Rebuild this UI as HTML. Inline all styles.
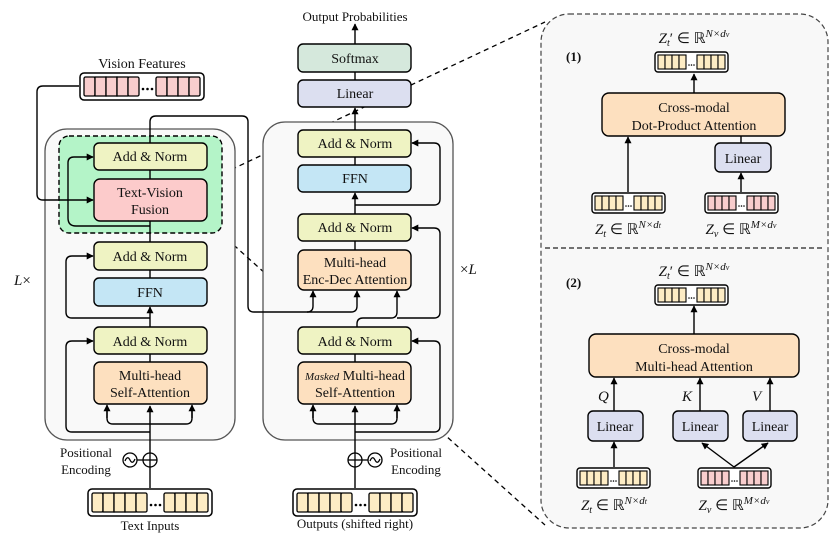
<!DOCTYPE html>
<html><head><meta charset="utf-8"><style>
html,body{margin:0;padding:0;background:#fff;}
svg{display:block;font-family:"Liberation Serif",serif;}
</style></head><body>
<svg width="830" height="536" viewBox="0 0 830 536" xmlns="http://www.w3.org/2000/svg">
<defs>
<marker id="a" viewBox="0 0 10 10" refX="9" refY="5" markerWidth="5" markerHeight="5" orient="auto"><path d="M0,0L10,5L0,10z" fill="#000"/></marker>
<symbol id="big" width="126" height="29" viewBox="0 0 126 29">
<rect x="1" y="1" width="124" height="27" rx="4" fill="#fff" stroke="#000" stroke-width="1.5"/>
<g stroke="#000" stroke-width="1.3"><rect x="5" y="5" width="11" height="19" rx="1.5"/><rect x="16" y="5" width="11" height="19"/><rect x="27" y="5" width="11" height="19"/><rect x="38" y="5" width="11" height="19"/><rect x="49" y="5" width="11" height="19" rx="1.5"/>
<rect x="77" y="5" width="11" height="19" rx="1.5"/><rect x="88" y="5" width="11" height="19"/><rect x="99" y="5" width="11" height="19"/><rect x="110" y="5" width="11" height="19" rx="1.5"/></g>
<circle cx="64" cy="17" r="1.3" fill="#000"/><circle cx="68.5" cy="17" r="1.3" fill="#000"/><circle cx="73" cy="17" r="1.3" fill="#000"/>
</symbol>
<symbol id="sm" width="75" height="22" viewBox="0 0 75 22">
<rect x="1" y="1" width="73" height="20" rx="3" fill="#fff" stroke="#000" stroke-width="1.4"/>
<g stroke="#000" stroke-width="1.1"><rect x="4" y="4" width="7" height="14"/><rect x="11" y="4" width="7" height="14"/><rect x="18" y="4" width="7" height="14"/><rect x="25" y="4" width="7" height="14"/>
<rect x="43" y="4" width="7" height="14"/><rect x="50" y="4" width="7" height="14"/><rect x="57" y="4" width="7" height="14"/><rect x="64" y="4" width="7" height="14"/></g>
<circle cx="35" cy="14" r="0.8" fill="#000"/><circle cx="37.5" cy="14" r="0.8" fill="#000"/><circle cx="40" cy="14" r="0.8" fill="#000"/>
</symbol>
</defs>

<rect x="541" y="14" width="287" height="514" rx="28" fill="#f8f8f8" stroke="#444" stroke-width="1.2" stroke-dasharray="5,3"/>
<line x1="545" y1="248" x2="825" y2="248" stroke="#222" stroke-width="1.3" stroke-dasharray="5,3"/>

<g stroke="#000" stroke-width="1.3" stroke-dasharray="5,4" fill="none">
<line x1="207" y1="181" x2="545" y2="22"/>
<line x1="207" y1="221" x2="545" y2="525"/>
</g>

<rect x="45" y="129" width="190" height="311" rx="22" fill="#f9f9f9" stroke="#555" stroke-width="1.3"/>
<rect x="59" y="136" width="163" height="97" rx="10" fill="#b4f4c8" stroke="#000" stroke-width="1.4" stroke-dasharray="5,3"/>
<rect x="263" y="122" width="190" height="318" rx="22" fill="#f9f9f9" stroke="#555" stroke-width="1.3"/>

<g stroke="#000" stroke-width="1.4" fill="none">
<line x1="150" y1="488" x2="150" y2="406" marker-end="url(#a)"/>
<path d="M107,406 L107,418 Q107,424 113,424 L186,424 Q192,424 192,418 L192,406" />
<line x1="107" y1="418" x2="107" y2="405" marker-end="url(#a)"/>
<line x1="192" y1="418" x2="192" y2="405" marker-end="url(#a)"/>
<path d="M150,432 L72,432 Q66,432 66,426 L66,347 Q66,341 72,341 L93,341" marker-end="url(#a)"/>
<line x1="150" y1="362" x2="150" y2="354"/>
<line x1="150" y1="327" x2="150" y2="307" marker-end="url(#a)"/>
<path d="M150,318 L72,318 Q66,318 66,312 L66,262 Q66,256 72,256 L93,256" marker-end="url(#a)"/>
<line x1="150" y1="278" x2="150" y2="270"/>
<line x1="150" y1="242" x2="150" y2="221"/>
<path d="M150,226 L76,226 Q68,226 68,218 L68,163 Q68,157 74,157 L93,157" marker-end="url(#a)"/>
<line x1="150" y1="179" x2="150" y2="170"/>
<path d="M79,86 L43,86 Q37,86 37,92 L37,194 Q37,200 43,200 L93,200" marker-end="url(#a)"/>
<path d="M150,143 L150,122 Q150,116 156,116 L242,116 Q248,116 248,122 L248,306 Q248,312 254,312 L351,312 Q357,312 357,306 L357,291" marker-end="url(#a)"/>
<path d="M307,312 Q313,312 313,306 L313,291" marker-end="url(#a)"/>
<line x1="355" y1="488" x2="355" y2="406" marker-end="url(#a)"/>
<path d="M313,406 L313,418 Q313,424 319,424 L391,424 Q397,424 397,418 L397,406"/>
<line x1="313" y1="418" x2="313" y2="405" marker-end="url(#a)"/>
<line x1="397" y1="418" x2="397" y2="405" marker-end="url(#a)"/>
<path d="M355,432 L434,432 Q440,432 440,426 L440,347 Q440,341 434,341 L412,341" marker-end="url(#a)"/>
<line x1="355" y1="362" x2="355" y2="354"/>
<path d="M357,327 L357,324 Q357,318 363,318 L391,318 Q397,318 397,312 L397,291" marker-end="url(#a)"/>
<path d="M397,318 L434,318 Q440,318 440,312 L440,234 Q440,228 434,228 L412,228" marker-end="url(#a)"/>
<line x1="355" y1="250" x2="355" y2="241"/>
<line x1="355" y1="214" x2="355" y2="193" marker-end="url(#a)"/>
<path d="M355,205 L434,205 Q440,205 440,199 L440,149 Q440,143 434,143 L412,143" marker-end="url(#a)"/>
<line x1="355" y1="165" x2="355" y2="157"/>
<line x1="355" y1="130" x2="355" y2="108" marker-end="url(#a)"/>
<line x1="355" y1="80" x2="355" y2="72"/>
<line x1="355" y1="44" x2="355" y2="24" marker-end="url(#a)"/>
<line x1="694" y1="93" x2="694" y2="74" marker-end="url(#a)"/>
<line x1="628" y1="192" x2="628" y2="137" marker-end="url(#a)"/>
<line x1="741" y1="192" x2="741" y2="173" marker-end="url(#a)"/>
<line x1="741" y1="143" x2="741" y2="136"/>
<line x1="694" y1="334" x2="694" y2="306" marker-end="url(#a)"/>
<line x1="614" y1="467" x2="614" y2="442" marker-end="url(#a)"/>
<line x1="614" y1="411" x2="614" y2="378" marker-end="url(#a)"/>
<line x1="700" y1="411" x2="700" y2="378" marker-end="url(#a)"/>
<line x1="770" y1="411" x2="770" y2="378" marker-end="url(#a)"/>
<line x1="734" y1="467" x2="702" y2="443" marker-end="url(#a)"/>
<line x1="734" y1="467" x2="768" y2="443" marker-end="url(#a)"/>
</g>

<g stroke="#000" stroke-width="1.3" fill="#fff">
<circle cx="150" cy="460" r="7"/><line x1="143" y1="460" x2="157" y2="460"/><line x1="150" y1="453" x2="150" y2="467"/>
<circle cx="130" cy="460" r="7"/><path d="M125,461 Q127.5,455 130,460 Q132.5,465 135,459" fill="none"/>
<line x1="137" y1="460" x2="143" y2="460"/>
<circle cx="355" cy="460" r="7"/><line x1="348" y1="460" x2="362" y2="460"/><line x1="355" y1="453" x2="355" y2="467"/>
<circle cx="375" cy="460" r="7"/><path d="M370,461 Q372.5,455 375,460 Q377.5,465 380,459" fill="none"/>
<line x1="362" y1="460" x2="368" y2="460"/>
</g>

<g stroke="#000" stroke-width="1.4">
<rect x="94" y="143" width="113" height="27" rx="5" fill="#eff3c3"/>
<rect x="94" y="179" width="113" height="42" rx="6" fill="#fccbcb"/>
<rect x="94" y="242" width="113" height="28" rx="5" fill="#eff3c3"/>
<rect x="94" y="278" width="113" height="28" rx="5" fill="#c4e6f5"/>
<rect x="94" y="327" width="113" height="27" rx="5" fill="#eff3c3"/>
<rect x="94" y="362" width="113" height="42" rx="6" fill="#fde0bf"/>
<rect x="298" y="44" width="113" height="28" rx="5" fill="#d5e8dc"/>
<rect x="298" y="80" width="113" height="27" rx="5" fill="#dcdff0"/>
<rect x="298" y="130" width="113" height="27" rx="5" fill="#eff3c3"/>
<rect x="298" y="165" width="113" height="27" rx="5" fill="#c4e6f5"/>
<rect x="298" y="214" width="113" height="27" rx="5" fill="#eff3c3"/>
<rect x="298" y="250" width="113" height="40" rx="6" fill="#fde0bf"/>
<rect x="298" y="327" width="113" height="27" rx="5" fill="#eff3c3"/>
<rect x="298" y="362" width="113" height="42" rx="6" fill="#fde0bf"/>
<rect x="602" y="93" width="183" height="43" rx="7" fill="#fde0bf"/>
<rect x="715" y="143" width="56" height="29" rx="5" fill="#dcdff0"/>
<rect x="589" y="334" width="210" height="43" rx="7" fill="#fde0bf"/>
<rect x="588" y="411" width="55" height="30" rx="5" fill="#dcdff0"/>
<rect x="673" y="411" width="55" height="30" rx="5" fill="#dcdff0"/>
<rect x="743" y="411" width="54" height="30" rx="5" fill="#dcdff0"/>
</g>

<use href="#big" x="79" y="72" fill="#f8cdcd"/>
<use href="#big" x="87" y="488" fill="#fdecc4"/>
<use href="#big" x="292" y="488" fill="#fdecc4"/>
<use href="#sm" x="654" y="51" fill="#fdecc4"/>
<use href="#sm" x="591" y="192" fill="#fdecc4"/>
<use href="#sm" x="704" y="192" fill="#f8cdcd"/>
<use href="#sm" x="654" y="284" fill="#fdecc4"/>
<use href="#sm" x="576" y="467" fill="#fdecc4"/>
<use href="#sm" x="697" y="467" fill="#f8cdcd"/>

<g font-size="14" text-anchor="middle" fill="#111">
<text x="150" y="161">Add &amp; Norm</text>
<text x="150" y="197">Text-Vision</text>
<text x="150" y="214">Fusion</text>
<text x="150" y="261">Add &amp; Norm</text>
<text x="150" y="297">FFN</text>
<text x="150" y="346">Add &amp; Norm</text>
<text x="150" y="380">Multi-head</text>
<text x="150" y="397">Self-Attention</text>
<text x="355" y="63">Softmax</text>
<text x="355" y="98">Linear</text>
<text x="355" y="148">Add &amp; Norm</text>
<text x="355" y="183">FFN</text>
<text x="355" y="232">Add &amp; Norm</text>
<text x="355" y="267">Multi-head</text>
<text x="355" y="284">Enc-Dec Attention</text>
<text x="355" y="346">Add &amp; Norm</text>
<text x="355" y="380"><tspan font-style="italic" font-size="11">Masked</tspan> Multi-head</text>
<text x="355" y="397">Self-Attention</text>
<text x="355" y="21" font-size="13">Output Probabilities</text>
<text x="142" y="68">Vision Features</text>
<text x="150" y="530" font-size="13">Text Inputs</text>
<text x="355" y="528" font-size="13">Outputs (shifted right)</text>
<text x="86" y="457" font-size="13">Positional</text>
<text x="86" y="474" font-size="13">Encoding</text>
<text x="416" y="457" font-size="13">Positional</text>
<text x="416" y="474" font-size="13">Encoding</text>
<text x="694" y="112">Cross-modal</text>
<text x="694" y="130">Dot-Product Attention</text>
<text x="743" y="163">Linear</text>
<text x="694" y="353">Cross-modal</text>
<text x="694" y="371">Multi-head Attention</text>
<text x="615" y="431">Linear</text>
<text x="700" y="431">Linear</text>
<text x="770" y="431">Linear</text>
</g>
<g font-size="15" font-style="italic" fill="#111">
<text x="14" y="285">L<tspan font-style="normal">×</tspan></text>
<text x="460" y="274"><tspan font-style="normal">×</tspan>L</text>
<text x="598" y="401">Q</text>
<text x="682" y="401">K</text>
<text x="752" y="401">V</text>
</g>
<g font-size="13" font-weight="bold" fill="#111">
<text x="566" y="61">(1)</text>
<text x="566" y="287">(2)</text>
</g>
<g font-size="15" fill="#111" text-anchor="middle">
<text x="694" y="43"><tspan font-style="italic">Z</tspan><tspan font-size="10" dy="3" font-style="italic">t</tspan><tspan dy="-3">′ ∈ ℝ</tspan><tspan font-size="11" dy="-6" font-style="italic">N×d<tspan font-size="8">v</tspan></tspan></text>
<text x="628" y="234"><tspan font-style="italic">Z</tspan><tspan font-size="10" dy="3" font-style="italic">t</tspan><tspan dy="-3"> ∈ ℝ</tspan><tspan font-size="11" dy="-6" font-style="italic">N×d<tspan font-size="8">t</tspan></tspan></text>
<text x="741" y="234"><tspan font-style="italic">Z</tspan><tspan font-size="10" dy="3" font-style="italic">v</tspan><tspan dy="-3"> ∈ ℝ</tspan><tspan font-size="11" dy="-6" font-style="italic">M×d<tspan font-size="8">v</tspan></tspan></text>
<text x="694" y="276"><tspan font-style="italic">Z</tspan><tspan font-size="10" dy="3" font-style="italic">t</tspan><tspan dy="-3">′ ∈ ℝ</tspan><tspan font-size="11" dy="-6" font-style="italic">N×d<tspan font-size="8">v</tspan></tspan></text>
<text x="614" y="510"><tspan font-style="italic">Z</tspan><tspan font-size="10" dy="3" font-style="italic">t</tspan><tspan dy="-3"> ∈ ℝ</tspan><tspan font-size="11" dy="-6" font-style="italic">N×d<tspan font-size="8">t</tspan></tspan></text>
<text x="734" y="510"><tspan font-style="italic">Z</tspan><tspan font-size="10" dy="3" font-style="italic">v</tspan><tspan dy="-3"> ∈ ℝ</tspan><tspan font-size="11" dy="-6" font-style="italic">M×d<tspan font-size="8">v</tspan></tspan></text>
</g>
</svg>
</body></html>
